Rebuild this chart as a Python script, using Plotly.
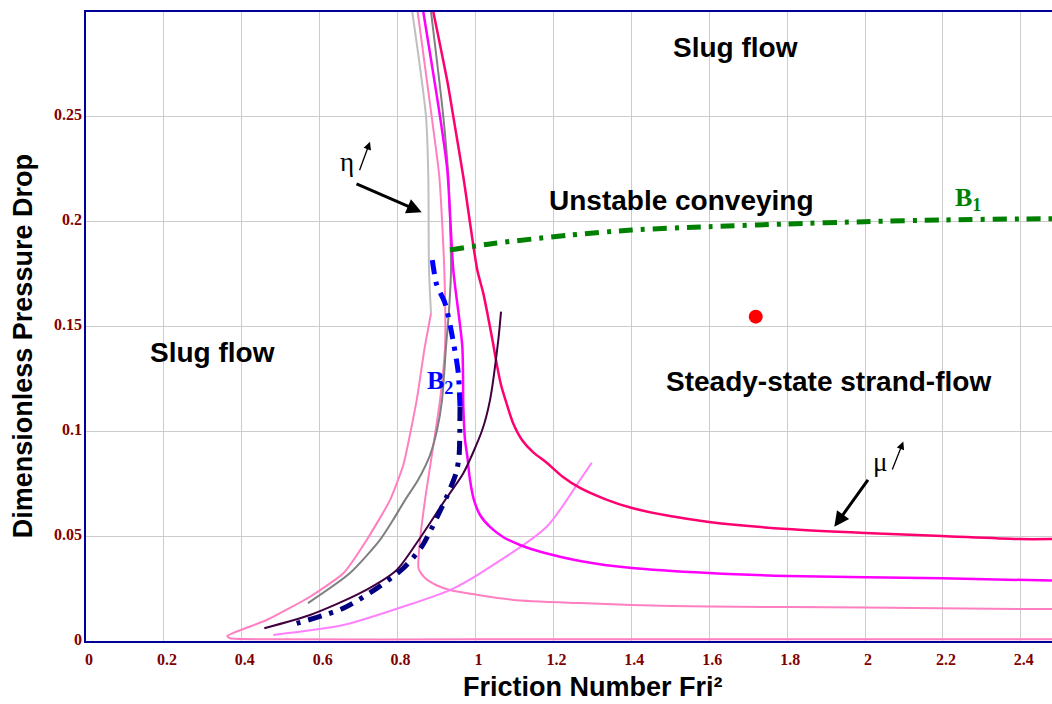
import plotly.graph_objects as go

# ---- curve data (Friction number Fri^2 vs dimensionless pressure drop) ----
gray_light_x = [0.8377, 0.8729, 0.8788, 0.8806, 0.8858]
gray_light_y = [0.3000, 0.2501, 0.2214, 0.1769, 0.1563]

pink_a_x = [0.8858, 0.8685, 0.849, 0.8146, 0.7805, 0.7207, 0.6606, 0.5751, 0.4639, 0.3628,
            0.3697, 0.5153, 1.0, 1.5, 2.0, 2.48]
pink_a_y = [0.1563, 0.1388, 0.1149, 0.0839, 0.0672, 0.0482, 0.0323, 0.0211, 0.0100, 0.0024,
            0.0013, 0.0008, 0.0008, 0.0008, 0.0008, 0.0008]

pink_b_x = [0.8516, 0.8875, 0.9071, 0.9199, 0.9217, 0.9089, 0.8703, 0.8575, 0.8531, 0.855,
            0.8703, 0.8986, 0.9345, 1.0963, 1.2683, 1.401, 1.5987, 1.9992, 2.398, 2.48]
pink_b_y = [0.3000, 0.2501, 0.2214, 0.1769, 0.1404, 0.1149, 0.0672, 0.0482, 0.0354, 0.0339,
            0.0300, 0.0267, 0.0243, 0.0196, 0.0181, 0.0172, 0.0164, 0.0160, 0.0153, 0.0153]

magenta_x = [0.866, 0.9089, 0.9276, 0.943, 0.9661, 0.9687, 0.973, 0.979, 0.9859, 0.9961,
             1.0116, 1.0372, 1.0706, 1.1143, 1.1784, 1.2683, 1.4018, 1.5995, 1.7997, 2.1977, 2.48]
magenta_y = [0.3000, 0.2501, 0.2246, 0.1769, 0.1404, 0.1117, 0.0959, 0.0879, 0.0768, 0.0672,
             0.0601, 0.0544, 0.0496, 0.0458, 0.0420, 0.0382, 0.0348, 0.0324, 0.0310, 0.0299, 0.0288]

gray_dark_x = [0.8858, 0.9173, 0.9302, 0.9371, 0.932, 0.9243, 0.914, 0.9012, 0.8832, 0.8524,
               0.819, 0.7882, 0.7548, 0.6778, 0.5700]
gray_dark_y = [0.3000, 0.2501, 0.2214, 0.1769, 0.1579, 0.1404, 0.1149, 0.1006, 0.0887, 0.0768,
               0.0672, 0.0577, 0.0482, 0.0324, 0.0181]

deep_pink_x = [0.8917, 0.9286, 0.943, 0.9687, 1.0046, 1.02, 1.0449, 1.0526, 1.0655, 1.0809,
               1.0963, 1.1194, 1.1476, 1.1836, 1.2246, 1.2683, 1.3325, 1.4018, 1.4994, 1.5995,
               1.7997, 2.0, 2.1977, 2.398, 2.48]
deep_pink_y = [0.3000, 0.2660, 0.2501, 0.2214, 0.1769, 0.1658, 0.1421, 0.1340, 0.1221, 0.1126,
               0.1040, 0.0959, 0.0901, 0.0849, 0.0782, 0.0730, 0.0677, 0.0634, 0.0596, 0.0568,
               0.0534, 0.0515, 0.0501, 0.0486, 0.0486]

purple_x = [0.4578, 0.5751, 0.7035, 0.7977, 0.8524, 0.9217, 0.9687, 1.017, 1.0372,
            1.0585, 1.0655]
purple_y = [0.0061, 0.0124, 0.0228, 0.0339, 0.0477, 0.0672, 0.0800, 0.1005, 0.1149,
            0.1436, 0.1571]

violet_x = [0.4809, 0.6606, 0.8403, 0.9345, 1.0116, 1.1828, 1.2683, 1.2983]
violet_y = [0.0029, 0.0076, 0.0180, 0.0243, 0.0323, 0.0545, 0.0768, 0.0850]

# boundary B2 (upper part and lower part)
b2_upper_x = [0.8891, 0.9004, 0.9217, 0.943, 0.9558, 0.9602]
b2_upper_y = [0.1817, 0.1698, 0.1611, 0.1427, 0.1277, 0.1117]
b2_lower_x = [0.9602, 0.9576, 0.9499, 0.926, 0.8619, 0.8146, 0.7463, 0.6606, 0.5409]
b2_lower_y = [0.1117, 0.0879, 0.0800, 0.0688, 0.0450, 0.0347, 0.0251, 0.0156, 0.0084]

# boundary B1
b1_x = [0.9345, 1.05, 1.2426, 1.401, 1.5987, 1.799, 1.9992, 2.1985, 2.398, 2.48]
b1_y = [0.1865, 0.1897, 0.1936, 0.1960, 0.1976, 0.1989, 0.2000, 0.2008, 0.2013, 0.2014]

# operating point
point_x = [1.7194]
point_y = [0.1547]

x_ticks = [0, 0.2, 0.4, 0.6, 0.8, 1, 1.2, 1.4, 1.6, 1.8, 2, 2.2, 2.4]
x_tick_text = ["0", "0.2", "0.4", "0.6", "0.8", "1", "1.2", "1.4", "1.6", "1.8", "2", "2.2", "2.4"]
y_ticks = [0, 0.05, 0.1, 0.15, 0.2, 0.25]
y_tick_text = ["0", "0.05", "0.1", "0.15", "0.2", "0.25"]

fig = go.Figure()


def add_line(xs, ys, color, width, dash="solid", smoothing=0.7):
    fig.add_trace(go.Scatter(x=xs, y=ys, mode="lines",
                             line=dict(color=color, width=width, dash=dash,
                                       shape="spline", smoothing=smoothing),
                             hoverinfo="skip", showlegend=False))


add_line(pink_a_x, pink_a_y, "#FF80C0", 2, smoothing=0.5)
add_line(gray_light_x, gray_light_y, "#C0C0C0", 2)
add_line(pink_b_x, pink_b_y, "#FF80C0", 2, smoothing=0.6)
add_line(violet_x, violet_y, "#FF80FF", 2)
add_line(gray_dark_x, gray_dark_y, "#808080", 2)
add_line(magenta_x, magenta_y, "#FF00FF", 2.5)
add_line(deep_pink_x, deep_pink_y, "#FF0070", 2.5)
add_line(purple_x, purple_y, "#400040", 2)

dashdot = "14px,8px,4px,8px"
add_line(b2_upper_x, b2_upper_y, "#0000FF", 5, dashdot)
add_line(b2_lower_x, b2_lower_y, "#000080", 5, dashdot)
add_line(b1_x, b1_y, "#008000", 5, dashdot)

fig.add_trace(go.Scatter(x=point_x, y=point_y, mode="markers",
                         marker=dict(color="#FF0000", size=14),
                         hoverinfo="skip", showlegend=False))

region_font = dict(family="Arial, Liberation Sans, sans-serif", size=28, color="black")
title_font = dict(family="Arial, Liberation Sans, sans-serif", size=27, color="black")
serif = "Times New Roman, Liberation Serif, serif"
C = dict(xanchor="center", yanchor="middle", showarrow=False)
annotations = [
    dict(x=1.6675, y=0.2833, text="<b>Slug flow</b>", font=region_font, **C),
    dict(x=0.3235, y=0.1374, text="<b>Slug flow</b>", font=region_font, **C),
    dict(x=1.530, y=0.2103, text="<b>Unstable conveying</b>", font=region_font, **C),
    dict(x=1.905, y=0.1237, text="<b>Steady-state strand-flow</b>", font=region_font, **C),
    dict(x=2.264, y=0.2108, text="<b>B<sub>1</sub></b>",
         font=dict(family=serif, size=26, color="#008000"), **C),
    dict(x=0.9089, y=0.1235, text="<b>B<sub>2</sub></b>",
         font=dict(family=serif, size=26, color="#0000FF"), **C),
    dict(x=0.6693, y=0.2286, text="η", font=dict(family=serif, size=27, color="black"), **C),
    dict(x=2.0385, y=0.0855, text="μ", font=dict(family=serif, size=27, color="black"), **C),
    # small direction arrows next to the parameter symbols
    dict(x=0.7291, y=0.2381, ax=-11, ay=30, text="", showarrow=True,
         arrowhead=2, arrowsize=1.2, arrowwidth=1.3, arrowcolor="black", standoff=0),
    dict(x=2.0983, y=0.0951, ax=-11.6, ay=29.3, text="", showarrow=True,
         arrowhead=2, arrowsize=1.2, arrowwidth=1.3, arrowcolor="black", standoff=0),
    # pointer arrows to the curve families
    dict(x=0.8619, y=0.2045, ax=-66.7, ay=-29, text="", showarrow=True,
         arrowhead=2, arrowsize=1, arrowwidth=3, arrowcolor="black", standoff=0),
    dict(x=1.9212, y=0.0545, ax=34.7, ay=-48.4, text="", showarrow=True,
         arrowhead=2, arrowsize=1, arrowwidth=3, arrowcolor="black", standoff=0),
    # axis titles
    dict(xref="paper", yref="paper", x=0.5248, y=-0.0731, text="<b>Friction Number Fri²</b>",
         font=title_font, borderpad=0, **C),
    dict(xref="paper", yref="paper", x=-0.0655, y=0.4682, text="<b>Dimensionless Pressure Drop</b>",
         textangle=-90, font=title_font, **C),
]

tick_font = dict(family=serif, size=16, color="#800000")
axis_blue = "#000099"

fig.update_layout(
    width=1052, height=704,
    margin=dict(l=86, r=0, t=12, b=63),
    paper_bgcolor="white", plot_bgcolor="white",
    annotations=annotations,
    xaxis=dict(range=[0, 2.48], tickvals=x_ticks, ticktext=[f"<b>{t}</b>" for t in x_tick_text],
               tickfont=tick_font, showgrid=True, gridcolor="#CCCCCC", gridwidth=1,
               showline=True, linecolor=axis_blue, linewidth=1.5, mirror=True,
               zeroline=False, ticks="", ticklabelshift=3, ticklabelstandoff=3),
    yaxis=dict(range=[0, 0.3], tickvals=y_ticks, ticktext=[f"<b>{t}</b>" for t in y_tick_text],
               tickfont=tick_font, showgrid=True, gridcolor="#CCCCCC", gridwidth=1,
               showline=True, linecolor=axis_blue, linewidth=1.5,
               zeroline=False, ticks="", ticklabelstandoff=-1, ticklabelshift=-2),
)

fig.write_html("out.html")
